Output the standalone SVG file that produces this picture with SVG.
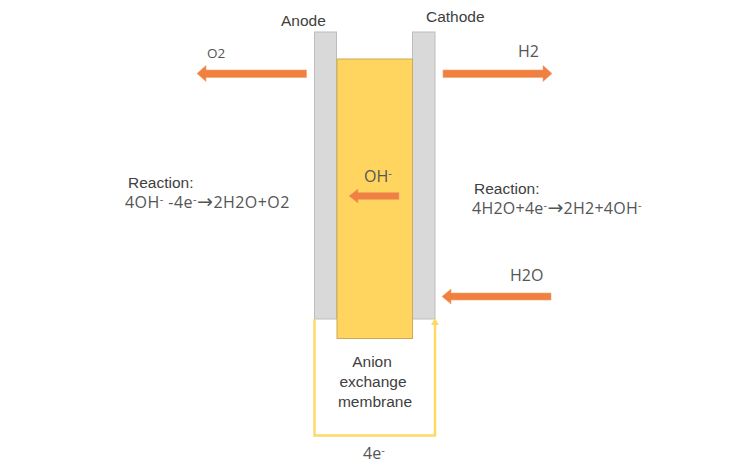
<svg xmlns="http://www.w3.org/2000/svg" width="750" height="468" viewBox="0 0 750 468">
<style>
.a{font-family:"Liberation Sans",Arial,sans-serif;fill:#404040;font-size:15.500px}
.b{font-family:"Open Sans","Noto Sans",sans-serif;fill:#555;font-size:16px}
.e{fill:#d9d9d9;stroke:#bdbdbd;stroke-width:1}
.arrow{fill:#ef8040;stroke:#f4a26e;stroke-width:.6}
.sup{font-size:11px}
.ar{font-family:"DejaVu Sans",sans-serif;font-size:19px}
</style>
<rect width="750" height="468" fill="#fff"/>
<g id="anode"><rect class="e" x="314.500" y="32" width="22" height="287"/><text class="a" x="281" y="26">Anode</text></g>
<g id="cathode"><rect class="e" x="412.500" y="32" width="22.500" height="287"/><text class="a" x="426" y="22">Cathode</text></g>
<g id="membrane"><rect x="337" y="59" width="75.500" height="279.500" fill="#ffd55f" stroke="#c9ab58" stroke-width="1"/><text class="a" x="372" y="367" text-anchor="middle">Anion</text><text class="a" x="373" y="387" text-anchor="middle">exchange</text><text class="a" x="375" y="407" text-anchor="middle">membrane</text></g>
<g id="connectors">
<path class="arrow" d="M306.500 70V77.500H206V81.500L197 73.500L206 65.500V70Z"/>
<path class="arrow" d="M443 70V77.500H543V81.500L552 73.500L543 65.500V70Z"/>
<path class="arrow" d="M399 192.500V199.500H358V203L349 196L358 189V192.500Z"/>
<path class="arrow" d="M551 293V300H451V304L442 296.500L451 289V293Z"/>
<path d="M314.500 319V435.500H435V324" fill="none" stroke="#ffd966" stroke-width="2.500"/>
<path d="M435 318L431 325H439Z" fill="#ffd966"/>
</g>
<g id="labels">
<text class="b" x="207" y="58" style="font-size:13.500px">O2</text>
<text class="b" x="518" y="57">H2</text>
<text class="b" x="364" y="182">OH<tspan class="sup" dy="-5">-</tspan></text>
<text class="b" x="510" y="281">H2O</text>
<text class="a" x="128" y="188">Reaction:</text>
<text class="b" x="125" y="208" style="letter-spacing:.45px">4OH<tspan class="sup" dy="-5">-</tspan><tspan dy="5"> -4e</tspan><tspan class="sup" dy="-5">-</tspan><tspan class="ar" dy="5">→</tspan><tspan>2H2O+O2</tspan></text>
<text class="a" x="474" y="194">Reaction:</text>
<text class="b" x="472" y="214" style="letter-spacing:.25px">4H2O+4e<tspan class="sup" dy="-5">-</tspan><tspan class="ar" dy="5">→</tspan><tspan>2H2+4OH</tspan><tspan class="sup" dy="-5">-</tspan></text>
<text class="b" x="363" y="459">4e<tspan class="sup" dy="-5">-</tspan></text>
</g>
</svg>
